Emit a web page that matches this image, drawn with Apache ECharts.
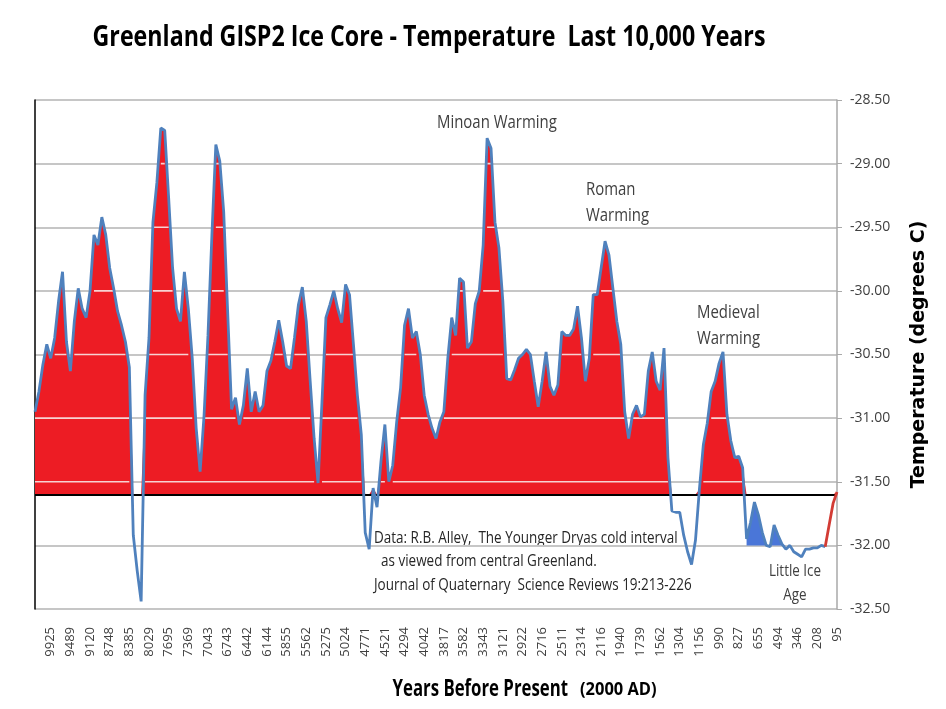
<!DOCTYPE html>
<html><head><meta charset="utf-8">
<script src="https://cdn.jsdelivr.net/npm/echarts@6/dist/echarts.min.js"></script>
<style>html,body{margin:0;padding:0;background:#fff}#c{width:946px;height:709px}</style>
</head><body><div id="c"></div>
<script>
// Tick labels (years before present) shown on the x axis
const yearLabels = ['9925','9489','9120','8748','8385','8029','7695','7369','7043','6743',
  '6442','6144','5855','5562','5275','5024','4771','4521','4294','4042',
  '3817','3582','3343','3121','2922','2716','2511','2314','2116','1940',
  '1739','1562','1304','1156','990','827','655','494','346','208','95'];
// Temperature (degrees C), oldest to newest
const temps = [
  -30.95,-30.79,-30.58,-30.42,-30.53,-30.37,-30.08,-29.85,-30.40,-30.63,
  -30.24,-29.98,-30.14,-30.21,-30.00,-29.56,-29.64,-29.42,-29.56,-29.82,
  -29.98,-30.16,-30.27,-30.40,-30.60,-31.92,-32.20,-32.44,-30.82,-30.37,
  -29.46,-29.15,-28.72,-28.74,-29.27,-29.82,-30.14,-30.24,-29.85,-30.14,
  -30.53,-31.08,-31.42,-30.98,-30.35,-29.56,-28.85,-28.98,-29.38,-30.16,
  -30.93,-30.84,-31.05,-30.90,-30.61,-30.95,-30.79,-30.95,-30.90,-30.63,
  -30.55,-30.40,-30.23,-30.40,-30.59,-30.61,-30.37,-30.11,-29.97,-30.24,
  -30.71,-31.16,-31.51,-30.87,-30.21,-30.11,-30.00,-30.14,-30.25,-29.95,
  -30.03,-30.42,-30.82,-31.13,-31.90,-32.03,-31.55,-31.70,-31.34,-31.05,
  -31.50,-31.37,-31.03,-30.76,-30.27,-30.14,-30.37,-30.32,-30.50,-30.82,
  -30.97,-31.08,-31.16,-31.03,-30.95,-30.53,-30.21,-30.35,-29.90,-29.93,
  -30.45,-30.40,-30.10,-30.00,-29.64,-28.80,-28.88,-29.46,-29.66,-30.08,
  -30.69,-30.70,-30.62,-30.53,-30.50,-30.46,-30.50,-30.71,-30.91,-30.71,
  -30.48,-30.75,-30.82,-30.74,-30.32,-30.35,-30.35,-30.30,-30.12,-30.37,
  -30.71,-30.53,-30.03,-30.03,-29.82,-29.61,-29.72,-29.98,-30.24,-30.42,
  -30.95,-31.16,-30.97,-30.90,-30.99,-30.97,-30.63,-30.48,-30.71,-30.78,
  -30.45,-31.31,-31.73,-31.74,-31.74,-31.92,-32.05,-32.15,-31.96,-31.56,
  -31.21,-31.04,-30.79,-30.71,-30.57,-30.48,-30.97,-31.18,-31.31,-31.30,
  -31.39,-31.95,-31.82,-31.66,-31.76,-31.90,-32.00,-32.01,-31.84,-31.92,
  -31.99,-32.03,-32.00,-32.05,-32.07,-32.09,-32.03,-32.03,-32.02,-32.02,
  -32.00,-32.01,-31.84,-31.67,-31.58
];
const yTicks = [-32.5,-32.0,-31.5,-31.0,-30.5,-30.0,-29.5,-29.0,-28.5];
const BASELINE = -31.6;       // level where the horizontal axis crosses
const LIA_FLOOR = -32.0;      // floor of the Little Ice Age shading
const LIA_START = 181;        // first sample of the Little Ice Age shading
const RECENT_START = 201;     // first sample of the recent (red) segment
const PER_LABEL = 5;          // samples per x tick label
const FIRST_LABEL = 4;        // sample index carrying the first tick label

const categories = temps.map((_, i) => String(i));
const isLabel = i => i >= FIRST_LABEL && (i - FIRST_LABEL) % PER_LABEL === 0;

const FONT = '"Open Sans", "Noto Sans", sans-serif';
const chart = echarts.init(document.getElementById('c'));

const innerLevels = yTicks.filter(v => v > BASELINE && v < -28.5);
const overlaySeries = innerLevels.map(L => ({
  type: 'line', silent: true, z: 3, symbol: 'none', animation: false,
  data: temps.map(v => v > L ? L : null),
  lineStyle: { color: '#f7d2d2', width: 1.6 }
}));

function txt(x, y, text, font, fill, align, sx) {
  return { type: 'text', x: x, y: y, scaleX: sx || 1, silent: true,
    style: { text: text, fill: fill, font: font + ' ' + FONT, textAlign: align, textVerticalAlign: 'middle' } };
}

chart.setOption({
  animation: false,
  backgroundColor: '#fff',
  grid: { left: 35, right: 109, top: 100, bottom: 100 },
  xAxis: {
    type: 'category', data: categories, boundaryGap: false,
    axisLine: { show: false }, axisTick: { show: false },
    axisLabel: {
      interval: (idx) => isLabel(idx),
      formatter: (val, idx) => isLabel(idx) ? yearLabels[(idx - FIRST_LABEL) / PER_LABEL] : '',
      rotate: 90, margin: 18, color: '#404040', fontFamily: FONT, fontSize: 13
    },
    splitLine: { show: false }
  },
  yAxis: [{
    type: 'value', position: 'right', min: -32.5, max: -28.5, interval: 0.5,
    axisLine: { show: true, lineStyle: { color: '#a9a9a9', width: 1.5 } },
    axisTick: { show: true, length: 5, lineStyle: { color: '#a9a9a9' } },
    axisLabel: { formatter: v => v.toFixed(2), color: '#404040', fontFamily: FONT, fontSize: 14, margin: 13 },
    splitLine: { show: true, lineStyle: { color: '#c6c6c6', width: 2 } },
    name: 'Temperature (degrees C)', nameLocation: 'middle', nameRotate: 90, nameGap: 73,
    nameTextStyle: { fontFamily: '"DejaVu Sans", sans-serif', fontWeight: 'bold', fontSize: 19, color: '#000' }
  }, {
    type: 'value', position: 'left', min: -32.5, max: -28.5, interval: 0.5,
    axisLine: { show: true, lineStyle: { color: '#000', width: 1.5 } },
    axisTick: { show: false }, axisLabel: { show: false }, splitLine: { show: false }
  }],
  series: [
    {
      type: 'line', silent: true, z: 2, symbol: 'none',
      data: temps.map(v => Math.max(v, BASELINE)),
      lineStyle: { width: 0, opacity: 0 },
      areaStyle: { color: '#ed1c24', opacity: 1, origin: BASELINE },
      markLine: {
        silent: true, symbol: ['none', 'none'], label: { show: false },
        lineStyle: { color: '#000', width: 2, type: 'solid' },
        data: [{ yAxis: BASELINE }]
      }
    },
    ...overlaySeries,
    {
      type: 'line', silent: true, z: 2, symbol: 'none',
      data: temps.map((v, i) => (i >= LIA_START && i <= RECENT_START) ? Math.max(v, LIA_FLOOR) : null),
      lineStyle: { width: 0, opacity: 0 },
      areaStyle: { color: '#4a76d8', opacity: 1, origin: LIA_FLOOR }
    },
    {
      type: 'line', silent: true, z: 5, symbol: 'none',
      data: temps.map((v, i) => i <= RECENT_START ? v : null),
      lineStyle: { color: '#4f81bd', width: 2.8 }
    },
    {
      type: 'line', silent: true, z: 5, symbol: 'none',
      data: temps.map((v, i) => i >= RECENT_START ? v : null),
      lineStyle: { color: '#d33c35', width: 2.8 }
    }
  ],
  graphic: [
    txt(429, 38, 'Greenland GISP2 Ice Core - Temperature  Last 10,000 Years', 'bold 29px', '#000', 'center', 0.80),
    txt(437, 123, 'Minoan Warming', '18px', '#404040', 'left', 0.83),
    txt(586, 190, 'Roman', '18px', '#404040', 'left', 0.83),
    txt(586, 216, 'Warming', '18px', '#404040', 'left', 0.83),
    txt(697, 313, 'Medieval', '18px', '#404040', 'left', 0.83),
    txt(697, 339, 'Warming', '18px', '#404040', 'left', 0.83),
    txt(374, 539, 'Data: R.B. Alley,  The Younger Dryas cold interval', '15.5px', '#262626', 'left', 0.87),
    txt(374, 562, '  as viewed from central Greenland.', '15.5px', '#262626', 'left', 0.87),
    txt(374, 586, 'Journal of Quaternary  Science Reviews 19:213-226', '15.5px', '#262626', 'left', 0.87),
    txt(795, 571, 'Little Ice', '17px', '#404040', 'center', 0.79),
    txt(795, 595, 'Age', '17px', '#404040', 'center', 0.79),
    txt(568, 689, 'Years Before Present', 'bold 23.5px', '#000', 'right', 0.714),
    txt(580, 690, '(2000 AD)', 'bold 18.5px', '#000', 'left', 0.89)
  ]
});
</script></body></html>
